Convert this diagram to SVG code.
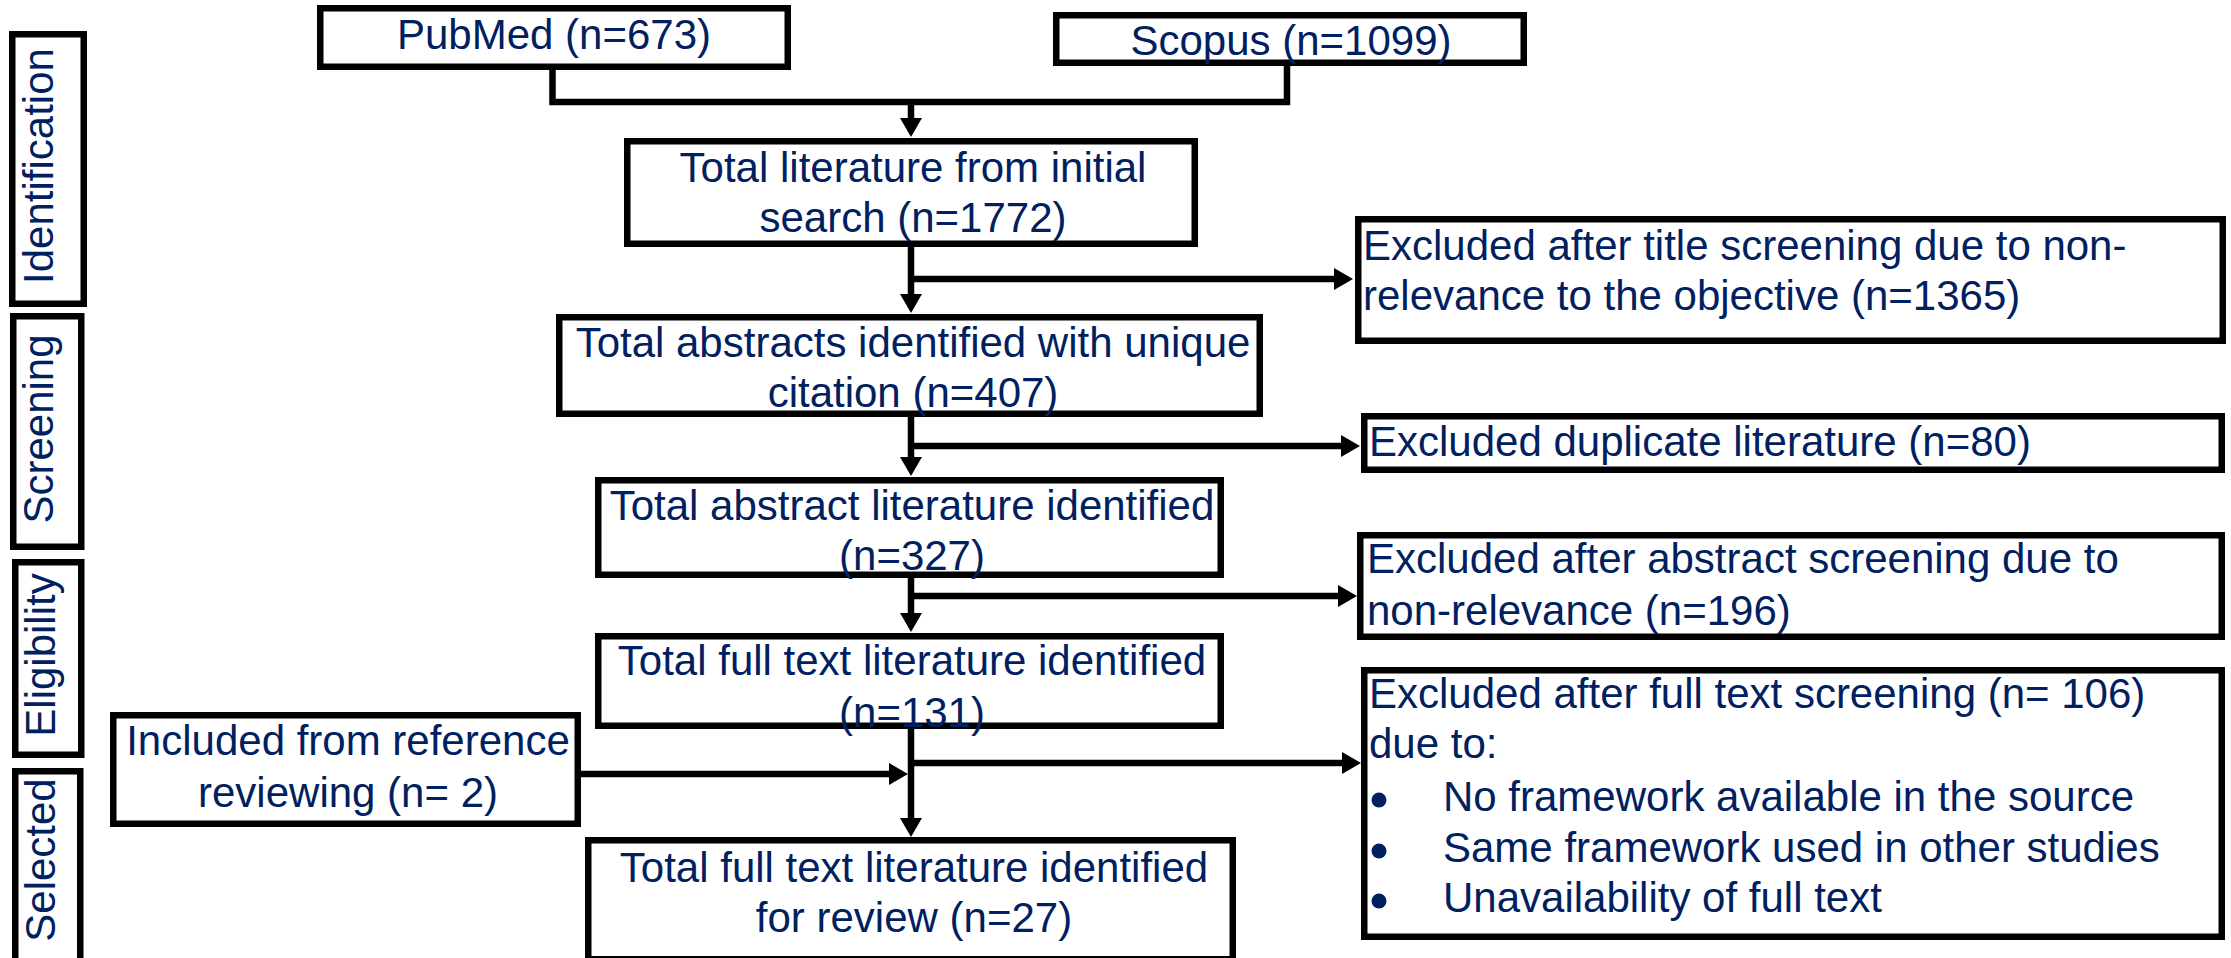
<svg xmlns="http://www.w3.org/2000/svg" width="2231" height="958" viewBox="0 0 2231 958">
<style>
.box{fill:#ffffff;stroke:#000000;stroke-width:6.5}
.t{font-family:"Liberation Sans",Arial,sans-serif;font-size:42px;fill:#002060}
.c{text-anchor:middle}
.ln{fill:none;stroke:#000000;stroke-width:6.5}
.ar{fill:none;stroke:#000000;stroke-width:6.5;marker-end:url(#ah)}
.bul{fill:#002060}
</style>
<defs>
<marker id="ah" markerUnits="userSpaceOnUse" markerWidth="20" markerHeight="22" refX="2" refY="11" orient="auto">
<path d="M0,0 L19,11 L0,22 z" fill="#000000"/>
</marker>
</defs>
<rect width="2231" height="958" fill="#ffffff"/>

<g id="phase-identification">
<rect class="box" x="12.25" y="34.25" width="71.5" height="269.5"/>
<text class="t c" transform="translate(53,166) rotate(-90)">Identification</text>
</g>
<g id="phase-screening">
<rect class="box" x="13.25" y="316.25" width="68" height="230.5"/>
<text class="t c" transform="translate(53,429) rotate(-90)">Screening</text>
</g>
<g id="phase-eligibility">
<rect class="box" x="15.25" y="562.25" width="66" height="192.5"/>
<text class="t c" transform="translate(55,655) rotate(-90)">Eligibility</text>
</g>
<g id="phase-selected">
<rect class="box" x="15.25" y="771.25" width="65" height="195"/>
<text class="t c" transform="translate(55,860) rotate(-90)">Selected</text>
</g>

<g id="connectors">
<path class="ln" d="M552.5 67 V102 H1287 V63"/>
<path class="ar" d="M911 102 V120"/>
<path class="ar" d="M911 244 V296"/>
<path class="ar" d="M911 279 H1336"/>
<path class="ar" d="M911 414 V459"/>
<path class="ar" d="M911 446 H1343"/>
<path class="ar" d="M911 575 V615"/>
<path class="ar" d="M911 596 H1340"/>
<path class="ar" d="M911 726 V820"/>
<path class="ar" d="M911 763 H1344"/>
<path class="ar" d="M578 774 H891"/>
</g>

<g id="pubmed">
<rect class="box" x="320.25" y="8.25" width="467.5" height="58.5"/>
<text class="t c" x="554" y="49">PubMed (n=673)</text>
</g>
<g id="scopus">
<rect class="box" x="1056.25" y="15.25" width="467.5" height="47.5"/>
<text class="t c" x="1291" y="55">Scopus (n=1099)</text>
</g>
<g id="total-initial">
<rect class="box" x="627.25" y="141.25" width="567.5" height="102.5"/>
<text class="t c" x="913" y="182">Total literature from initial</text>
<text class="t c" x="913" y="232">search (n=1772)</text>
</g>
<g id="excluded-title">
<rect class="box" x="1358.25" y="219.25" width="864.5" height="121.5"/>
<text class="t" x="1363" y="260">Excluded after title screening due to non-</text>
<text class="t" x="1363" y="310">relevance to the objective (n=1365)</text>
</g>
<g id="total-abstracts">
<rect class="box" x="559.25" y="317.25" width="700.5" height="96.5"/>
<text class="t c" x="913" y="357">Total abstracts identified with unique</text>
<text class="t c" x="913" y="407">citation (n=407)</text>
</g>
<g id="excluded-duplicate">
<rect class="box" x="1364.25" y="416.25" width="857.5" height="53.5"/>
<text class="t" x="1369" y="456">Excluded duplicate literature (n=80)</text>
</g>
<g id="total-abstract-lit">
<rect class="box" x="598.25" y="480.25" width="622.5" height="94.5"/>
<text class="t c" x="912" y="520">Total abstract literature identified</text>
<text class="t c" x="912" y="570">(n=327)</text>
</g>
<g id="excluded-abstract">
<rect class="box" x="1360.25" y="535.25" width="861.5" height="101.5"/>
<text class="t" x="1367" y="573">Excluded after abstract screening due to</text>
<text class="t" x="1367" y="625">non-relevance (n=196)</text>
</g>
<g id="total-fulltext">
<rect class="box" x="598.25" y="636.25" width="622.5" height="89.5"/>
<text class="t c" x="912" y="675">Total full text literature identified</text>
<text class="t c" x="912" y="727">(n=131)</text>
</g>
<g id="included-reference">
<rect class="box" x="113.25" y="715.25" width="464.5" height="108.5"/>
<text class="t c" x="348" y="755">Included from reference</text>
<text class="t c" x="348" y="807">reviewing (n= 2)</text>
</g>
<g id="excluded-fulltext">
<rect class="box" x="1364.25" y="670.25" width="857.5" height="266.5"/>
<text class="t" x="1369" y="708">Excluded after full text screening (n= 106)</text>
<text class="t" x="1369" y="758">due to:</text>
<circle class="bul" cx="1379" cy="800" r="7.5"/>
<text class="t" x="1443" y="811">No framework available in the source</text>
<circle class="bul" cx="1379" cy="851" r="7.5"/>
<text class="t" x="1443" y="862">Same framework used in other studies</text>
<circle class="bul" cx="1379" cy="901" r="7.5"/>
<text class="t" x="1443" y="912">Unavailability of full text</text>
</g>
<g id="total-review">
<rect class="box" x="588.25" y="840.25" width="644.5" height="119"/>
<text class="t c" x="914" y="882">Total full text literature identified</text>
<text class="t c" x="914" y="932">for review (n=27)</text>
</g>
</svg>
